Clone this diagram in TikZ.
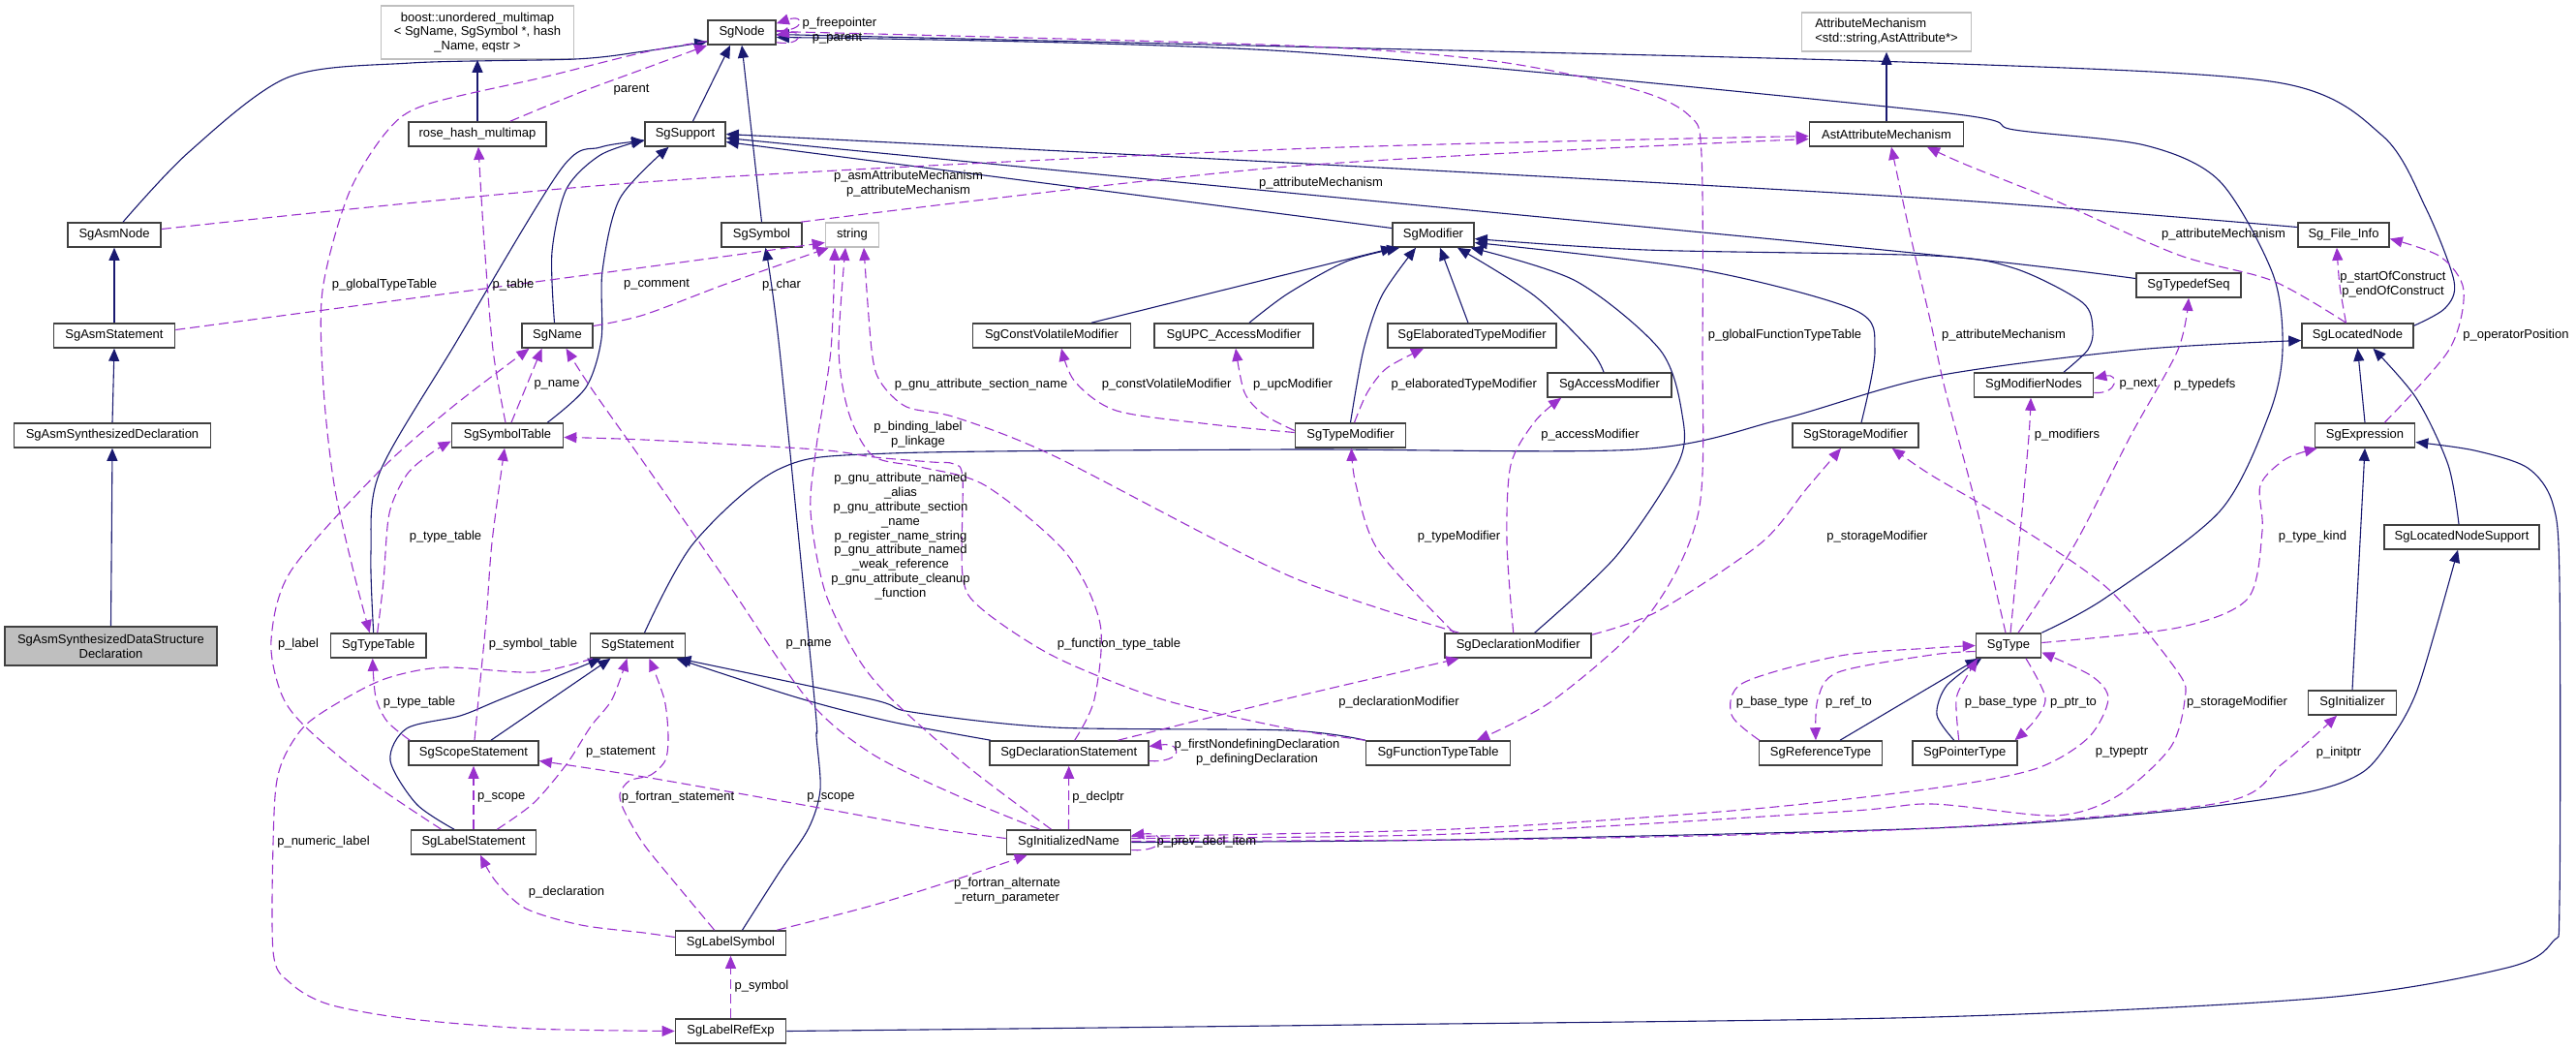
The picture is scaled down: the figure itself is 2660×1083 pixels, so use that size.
\documentclass[tikz,border=0pt]{standalone}
\usepackage{fontspec}
\setmainfont{Liberation Sans}
\usetikzlibrary{arrows.meta,calc}
\definecolor{inhc}{HTML}{191970}
\definecolor{usec}{HTML}{9A32CD}
\definecolor{grayb}{HTML}{BFBFBF}
\definecolor{bordc}{HTML}{404040}
\begin{document}
\begin{tikzpicture}[x=0.5pt,y=-0.5pt,font=\fontsize{6.5pt}{7.4pt}\selectfont,
  cls/.style={draw=bordc,line width=0.8pt,fill=white,minimum height=12.5pt,inner sep=0pt,align=center},
  gcls/.style={cls,draw=grayb},
  inhedge/.style={draw=inhc,line width=0.55pt,-{Triangle[length=6.5pt,width=5.5pt]}},
  useedge/.style={draw=usec,line width=0.55pt,dash pattern=on 5pt off 2.5pt,-{Triangle[length=6.5pt,width=5.5pt]}},
  lbl/.style={inner sep=0pt,align=center}]
\fill[white] (0,0) rectangle (2660,1083);
\useasboundingbox (0,0) rectangle (2660,1083);

% ---------- nodes ----------
\node[gcls,minimum width=99.5pt,minimum height=27.5pt] (boost) at (493,33.5) {boost::unordered\_multimap\\< SgName, SgSymbol *, hash\\\_Name, eqstr >};
\node[cls,minimum width=71pt] (rose) at (493,138.5) {rose\_hash\_multimap};
\node[cls,minimum width=35pt] (SgNode) at (766,33.5) {SgNode};
\node[gcls,minimum width=87.5pt,minimum height=20pt,align=left] (AttrMech) at (1948,33) {AttributeMechanism\\<std::string,AstAttribute*>};
\node[cls,minimum width=41.5pt] (SgSupport) at (707.5,138.5) {SgSupport};
\node[cls,minimum width=79.5pt] (AstAttr) at (1948,138.5) {AstAttributeMechanism};
\node[cls,minimum width=48pt] (SgAsmNode) at (118,242.5) {SgAsmNode};
\node[cls,minimum width=41.5pt] (SgSymbol) at (786.5,242.5) {SgSymbol};
\node[gcls,minimum width=27.5pt] (string) at (880,242.5) {string};
\node[cls,minimum width=42pt] (SgModifier) at (1480,242.5) {SgModifier};
\node[cls,minimum width=47pt] (SgFileInfo) at (2420,242.5) {Sg\_File\_Info};
\node[cls,minimum width=54pt] (SgTypedefSeq) at (2260,294.5) {SgTypedefSeq};
\node[cls,minimum width=62.5pt] (SgAsmStatement) at (118,346.5) {SgAsmStatement};
\node[cls,minimum width=36.5pt] (SgName) at (575.5,346.5) {SgName};
\node[cls,minimum width=81.5pt] (SgCVM) at (1086,346.5) {SgConstVolatileModifier};
\node[cls,minimum width=82pt] (SgUPC) at (1274,346.5) {SgUPC\_AccessModifier};
\node[cls,minimum width=87pt] (SgETM) at (1520,346.5) {SgElaboratedTypeModifier};
\node[cls,minimum width=57.5pt] (SgLocatedNode) at (2434.5,346.5) {SgLocatedNode};
\node[cls,minimum width=64pt] (SgAccessModifier) at (1662,397.5) {SgAccessModifier};
\node[cls,minimum width=61.5pt] (SgModifierNodes) at (2100,397.5) {SgModifierNodes};
\node[cls,minimum width=101.5pt] (SgASD) at (116,449.5) {SgAsmSynthesizedDeclaration};
\node[cls,minimum width=57.5pt] (SgSymbolTable) at (524,449.5) {SgSymbolTable};
\node[cls,minimum width=57pt] (SgTypeModifier) at (1394.5,449.5) {SgTypeModifier};
\node[cls,minimum width=65pt] (SgStorageModifier) at (1916,449.5) {SgStorageModifier};
\node[cls,minimum width=51.5pt] (SgExpression) at (2442,449.5) {SgExpression};
\node[cls,minimum width=80pt] (SgLNS) at (2542,554.5) {SgLocatedNodeSupport};
\node[cls,fill=grayb,minimum width=109.5pt,minimum height=20pt] (SgASDSD) at (114.5,667) {SgAsmSynthesizedDataStructure\\Declaration};
\node[cls,minimum width=49.25pt] (SgTypeTable) at (390.7,666.5) {SgTypeTable};
\node[cls,minimum width=49pt] (SgStatement) at (658.5,666.5) {SgStatement};
\node[cls,minimum width=75.5pt] (SgDeclMod) at (1567.7,666.5) {SgDeclarationModifier};
\node[cls,minimum width=33.5pt] (SgType) at (2074,666.5) {SgType};
\node[cls,minimum width=45.5pt] (SgInitializer) at (2429,725.5) {SgInitializer};
\node[cls,minimum width=67pt] (SgScopeStatement) at (489,777.5) {SgScopeStatement};
\node[cls,minimum width=82pt] (SgDeclStmt) at (1103.7,777.5) {SgDeclarationStatement};
\node[cls,minimum width=74.5pt] (SgFTT) at (1485,777.5) {SgFunctionTypeTable};
\node[cls,minimum width=63.5pt] (SgRefType) at (1880,777.5) {SgReferenceType};
\node[cls,minimum width=54pt] (SgPtrType) at (2028.7,777.5) {SgPointerType};
\node[cls,minimum width=64.5pt] (SgLabelStatement) at (489,869.5) {SgLabelStatement};
\node[cls,minimum width=64pt] (SgInitName) at (1103.5,869.5) {SgInitializedName};
\node[cls,minimum width=57pt] (SgLabelSymbol) at (754.5,973.5) {SgLabelSymbol};
\node[cls,minimum width=57pt] (SgLabelRefExp) at (754.5,1064.5) {SgLabelRefExp};

% ---------- inheritance ----------
\draw[inhedge] plot[smooth] coordinates {($(SgAsmNode.north)+(9,0)$) (195,157) (297,80) (424,65) (594,61) (665,53) (SgNode.195)};
\draw[inhedge] (SgAsmStatement.north) -- (SgAsmNode.south);
\draw[inhedge] (SgASD.north) -- (SgAsmStatement.south);
\draw[inhedge] (SgASDSD.north) -- (SgASD.south);
\draw[inhedge] (rose.north) -- (boost.south);
\draw[inhedge] ($(SgSupport.north)+(8,0)$) -- ($(SgNode.south)+(-12,0)$);
\draw[inhedge] (SgSymbol.north) -- (SgNode.south);
\draw[inhedge] plot[smooth] coordinates {($(SgName.north)+(-3,0)$) (570,260) (585,195) (620,160) ($(SgSupport.west)+(0,6)$)};
\draw[inhedge] plot[smooth] coordinates {($(SgTypeTable.north)+(-5,0)$) (383,570) (392,488) (470,355) (579,175) (620,152) ($(SgSupport.west)+(0,7)$)};
\draw[inhedge] plot[smooth] coordinates {($(SgSymbolTable.north east)+(-17,0)$) (605,400) (621,350) (622,280) (640,205) ($(SgSupport.south)+(-17,0)$)};
\draw[inhedge] ($(SgModifier.west)+(0,-7)$) -- ($(SgSupport.east)+(0,8)$);
\draw[inhedge] plot[smooth] coordinates {($(SgFileInfo.west)+(0,-8)$) (1995,205) (1330,168) (SgSupport.east)};
\draw[inhedge] plot[smooth] coordinates {($(SgTypedefSeq.west)+(0,-7)$) (1995,263) (1330,199) ($(SgSupport.east)+(0,4)$)};
\draw[inhedge] ($(SgCVM.north)+(41,0)$) -- ($(SgModifier.south west)+(2,0)$);
\draw[inhedge] plot[smooth] coordinates {($(SgUPC.north)+(16,0)$) (1330,303) (1390,270) ($(SgModifier.south west)+(8,0)$)};
\draw[inhedge] ($(SgETM.north)+(-4,0)$) -- ($(SgModifier.south)+(7,0)$);
\draw[inhedge] plot[smooth] coordinates {(SgTypeModifier.north) (1408,361) (1427,305) ($(SgModifier.south)+(-18,0)$)};
\draw[inhedge] plot[smooth] coordinates {($(SgAccessModifier.north)+(-6,0)$) (1642,361) (1584,305) ($(SgModifier.south)+(25,0)$)};
\draw[inhedge] plot[smooth] coordinates {($(SgDeclMod.north)+(17,0)$) (1669,574) (1733,478) (1737,428) (1714,361) (1627,290) ($(SgModifier.south east)+(-4,0)$)};
\draw[inhedge] plot[smooth] coordinates {($(SgStorageModifier.north)+(6,0)$) (1936,361) (1915,320) (1754,278) ($(SgModifier.east)+(0,8)$)};
\draw[inhedge] plot[smooth] coordinates {($(SgModifierNodes.north)+(31,0)$) (2156,361) (2161,340) (2150,312) (2080,277) (1995,264) (1700,258) ($(SgModifier.east)+(0,4)$)};
\draw[inhedge] plot[smooth] coordinates {($(SgLocatedNode.north east)+(0,3)$) (2525,318) (2534,290) (2505,215) (2460,140) (2351,85) (1995,65) (1330,48) ($(SgNode.east)+(0,2)$)};
\draw[inhedge] plot[smooth] coordinates {(SgType.north east) (2173,618) (2292,528) (2343,428) (2357,361) (2347,283) (2292,187) (2215,150) (2080,134) (1995,115) (1330,53) ($(SgNode.east)+(0,5)$)};
\draw[inhedge] (SgExpression.north) -- (SgLocatedNode.south);
\draw[inhedge] plot[smooth] coordinates {($(SgLNS.north)+(-3,0)$) (2528,480) (2495,411) ($(SgLocatedNode.south)+(16,0)$)};
\draw[inhedge] (SgInitializer.north) -- (SgExpression.south);
\draw[inhedge] plot[smooth] coordinates {(SgLabelRefExp.east) (1400,1058) (1995,1050) (2400,1030) (2589,999) (2636,972) (2643,930) (2643,600) (2636,520) (2610,483) (2555,465) ($(SgExpression.east)+(0,7)$)};
\draw[inhedge] plot[smooth] coordinates {(SgInitName.east) (1500,867) (1995,855) (2224,839) (2377,819) (2440,797) (2474,755) (2495,715) (2515,650) ($(SgLNS.south)+(-4,0)$)};
\draw[inhedge] plot[smooth] coordinates {($(SgStatement.north)+(7,0)$) (716,561) (805,484) (919,468) (1330,464) (1690,464) (1839,433) (1995,389) (2207,361) ($(SgLocatedNode.west)+(0,5)$)};
\draw[inhedge] ($(SgScopeStatement.north)+(18,0)$) -- ($(SgStatement.south)+(-28,0)$);
\draw[inhedge] plot[smooth] coordinates {($(SgLabelStatement.north)+(-20,0)$) (430,830) (403,785) (420,752) (475,739) (517,722) ($(SgStatement.south)+(-38,0)$)};
\draw[inhedge] plot[smooth] coordinates {($(SgDeclStmt.north west)+(2,0)$) (920,745) (826,721) ($(SgStatement.south)+(40,0)$)};
\draw[inhedge] plot[smooth] coordinates {(SgFTT.north west) (1330,754) (1089,751) (941,735) (900,722) ($(SgStatement.south)+(42,0)$)};
\draw[inhedge] ($(SgRefType.north)+(20,0)$) -- ($(SgType.south west)+(3,0)$);
\draw[inhedge] plot[smooth] coordinates {($(SgPtrType.north)+(-11,0)$) (2000,738) (2010,708) ($(SgType.south)+(-28,0)$)};
\draw[inhedge] plot[smooth] coordinates {($(SgLabelSymbol.north)+(12,0)$) (805,900) (835,855) (847,815) (843,760) (841,722) (805,361) ($(SgSymbol.south)+(4,0)$)};
\draw[inhedge] (AstAttr.north) -- (AttrMech.south);

% ---------- usage ----------
\draw[useedge] ($(SgNode.east)+(0,-2)$) .. controls (832,33) and (832,14) .. ($(SgNode.north east)+(0,4)$);
\draw[useedge] ($(SgNode.south east)+(0,-3)$) .. controls (830,48) and (830,30) .. ($(SgNode.east)+(0,3)$);
\draw[useedge] plot[smooth] coordinates {($(rose.north east)+(-38,0)$) (600,95) (665,71) (SgNode.south west)};
\draw[useedge] plot[smooth] coordinates {($(SgNode.west)+(0,9)$) (665,54) (560,80) (440,108) (400,135) (360,200) (333,300) (334,400) (345,500) (365,590) ($(SgTypeTable.north)+(-9,0)$)};
\draw[useedge] plot[smooth] coordinates {($(SgAsmNode.east)+(0,-6)$) (665,188) (1330,154) ($(AstAttr.west)+(0,2)$)};
\draw[useedge] plot[smooth] coordinates {($(SgSymbol.north east)+(-2,0)$) (1330,172) ($(AstAttr.west)+(0,5)$)};
\draw[useedge] plot[smooth] coordinates {($(SgAsmStatement.east)+(0,-6)$) (665,276) ($(string.west)+(0,8)$)};
\draw[useedge] plot[smooth] coordinates {($(SgName.east)+(0,-10)$) (665,325) (750,293) ($(string.south west)+(4,0)$)};
\draw[useedge] plot[smooth] coordinates {($(SgSymbolTable.north)+(-2,0)$) (509,361) (500,250) ($(rose.south)+(1,0)$)};
\draw[useedge] plot[smooth] coordinates {($(SgSymbolTable.north)+(4,0)$) (545,395) ($(SgName.south)+(-16,0)$)};
\draw[useedge] plot[smooth] coordinates {($(SgLabelStatement.north west)+(32,0)$) (380,805) (314,749) (290,715) (280,661) (300,590) (390,488) (466,421) ($(SgName.south)+(-29,0)$)};
\draw[useedge] plot[smooth] coordinates {($(SgInitName.north)+(-30,0)$) (990,822) (900,778) (834,722) (750,600) (665,478) (610,400) ($(SgName.south)+(9,0)$)};
\draw[useedge] plot[smooth] coordinates {($(SgInitName.north)+(-18,0)$) (1000,792) (921,722) (885,678) (852,611) (837,528) (843,461) (858,361) ($(string.south)+(-18,0)$)};
\draw[useedge] plot[smooth] coordinates {($(SgDeclStmt.north)+(6,0)$) (1130,722) (1136,644) (1100,570) (1017,501) (950,482) (902,471) (877,428) (866,361) ($(string.south)+(-7,0)$)};
\draw[useedge] plot[smooth] coordinates {($(SgDeclMod.north west)+(15,0)$) (1330,594) (1089,471) (987,431) (936,420) (909,394) (900,361) ($(string.south)+(12,0)$)};
\draw[useedge] plot[smooth] coordinates {(SgFTT.north west) (1330,752) (1200,722) (1089,678) (1013,628) (994,594) (994,494) (985,479) (962,477) (903,472) (843,464) (665,454) ($(SgSymbolTable.east)+(0,2)$)};
\draw[useedge] plot[smooth] coordinates {($(SgTypeModifier.north)+(4,0)$) (1412,405) (1432,380) ($(SgETM.south)+(-50,0)$)};
\draw[useedge] plot[smooth] coordinates {($(SgTypeModifier.west)+(0,-5)$) (1305,428) (1285,405) ($(SgUPC.south)+(2,0)$)};
\draw[useedge] plot[smooth] coordinates {($(SgTypeModifier.west)+(0,-3)$) (1250,438) (1153,424) (1110,394) ($(SgCVM.south)+(10,0)$)};
\draw[useedge] plot[smooth] coordinates {($(SgDeclMod.north west)+(10,0)$) (1423,568) (1400,500) ($(SgTypeModifier.south)+(1,0)$)};
\draw[useedge] plot[smooth] coordinates {($(SgDeclMod.north)+(-5,0)$) (1556,560) (1560,480) (1585,435) ($(SgAccessModifier.south west)+(15,0)$)};
\draw[useedge] plot[smooth] coordinates {($(SgDeclMod.north east)+(0,2)$) (1712,631) (1818,561) (1865,505) ($(SgStorageModifier.south)+(-15,0)$)};
\draw[useedge] plot[smooth] coordinates {($(SgInitName.east)+(0,-4)$) (1500,861) (1900,838) (1995,830) (2122,842) (2186,822) (2241,772) (2256,722) (2249,694) (2177,608) (2080,541) (1995,491) ($(SgStorageModifier.south east)+(-28,0)$)};
\draw[useedge] plot[smooth] coordinates {($(SgInitName.east)+(0,-6)$) (1500,856) (1800,836) (1995,814) (2101,794) (2156,762) (2177,722) (2160,698) ($(SgType.east)+(0,7)$)};
\draw[useedge] plot[smooth] coordinates {($(SgInitName.east)+(0,-1)$) (1600,866) (1995,855) (2292,829) (2356,789) ($(SgInitializer.south)+(-16,0)$)};
\draw[useedge] ($(SgInitName.east)+(0,8)$) .. controls (1205,880) and (1205,858) .. ($(SgInitName.east)+(0,-7)$);
\draw[useedge] (SgInitName.north) -- (SgDeclStmt.south);
\draw[useedge] ($(SgDeclStmt.east)+(0,8)$) .. controls (1222,788) and (1222,766) .. ($(SgDeclStmt.east)+(0,-7)$);
\draw[useedge] plot[smooth] coordinates {($(SgDeclStmt.north east)+(-32,0)$) (1330,721) ($(SgDeclMod.south west)+(15,0)$)};
\draw[useedge] plot[smooth] coordinates {($(SgLabelSymbol.north east)+(-10,0)$) (900,935) (987,908) ($(SgInitName.south west)+(22,0)$)};
\draw[useedge] (SgLabelRefExp.north) -- (SgLabelSymbol.south);
\draw[useedge] plot[smooth] coordinates {($(SgStatement.south west)+(3,0)$) (551,694) (458,689) (400,700) (355,722) (314,750) (290,790) (283,840) (282,982) (300,1015) (340,1037) (424,1052) (550,1062) (SgLabelRefExp.west)};
\draw[useedge] plot[smooth] coordinates {($(SgLabelSymbol.west)+(0,-6)$) (665,963) (600,955) (543,938) (512,910) ($(SgLabelStatement.south)+(7,0)$)};
\draw[useedge] plot[smooth] coordinates {($(SgLabelSymbol.north west)+(41,0)$) (700,915) (665,872) (645,838) (640,820) (650,806) (672,800) (687,785) (690,760) (686,722) ($(SgStatement.south)+(12,0)$)};
\draw[useedge] plot[smooth] coordinates {($(SgInitName.west)+(0,-4)$) (962,855) (835,832) (665,802) ($(SgScopeStatement.east)+(0,8)$)};
\draw[useedge] plot[smooth] coordinates {($(SgScopeStatement.north)+(1,0)$) (494,722) (502,640) (508,560) ($(SgSymbolTable.south)+(-3,0)$)};
\draw[useedge] plot[smooth] coordinates {($(SgScopeStatement.north west)+(2,0)$) (400,745) (388,720) ($(SgTypeTable.south)+(-6,0)$)};
\draw[useedge] plot[smooth] coordinates {($(SgTypeTable.north)+(-1,0)$) (396,600) (402,530) (420,490) (445,468) ($(SgSymbolTable.west)+(0,6)$)};
\draw[useedge] (SgLabelStatement.north) -- (SgScopeStatement.south);
\draw[useedge] plot[smooth] coordinates {($(SgLabelStatement.north east)+(-41,0)$) (551,829) (585,789) (610,750) (632,722) ($(SgStatement.south)+(-11,0)$)};
\draw[useedge] plot[smooth] coordinates {($(SgType.north)+(2,0)$) (2086,550) (2095,450) ($(SgModifierNodes.south)+(-3,0)$)};
\draw[useedge] ($(SgModifierNodes.east)+(0,8)$) .. controls (2188,407) and (2188,385) .. ($(SgModifierNodes.east)+(0,-7)$);
\draw[useedge] plot[smooth] coordinates {($(SgType.north)+(10,0)$) (2143,561) (2200,450) (2249,361) (SgTypedefSeq.south)};
\draw[useedge] plot[smooth] coordinates {($(SgType.east)+(0,-3)$) (2249,648) (2321,618) (2336,548) (2334,501) (2360,474) ($(SgExpression.south west)+(3,0)$)};
\draw[useedge] plot[smooth] coordinates {($(SgType.north)+(-3,0)$) (2040,520) (2008,400) (1993,330) (1972,240) ($(AstAttr.south)+(5,0)$)};
\draw[useedge] plot[smooth] coordinates {($(SgLocatedNode.north)+(-12,0)$) (2347,290) (2249,263) (2122,207) (2030,170) ($(AstAttr.south)+(42,0)$)};
\draw[useedge] plot[smooth] coordinates {($(SgLocatedNode.north)+(-12,0)$) (2416,295) ($(SgFileInfo.south)+(-7,0)$)};
\draw[useedge] plot[smooth] coordinates {($(SgExpression.north east)+(-32,0)$) (2529,361) (2544,300) (2520,265) ($(SgFileInfo.east)+(0,4)$)};
\draw[useedge] plot[smooth] coordinates {($(SgRefType.north west)+(1,0)$) (1788,738) (1800,705) (1900,677) (1995,669) (SgType.west)};
\draw[useedge] plot[smooth] coordinates {($(SgType.west)+(0,6)$) (1995,676) (1898,694) (1877,722) ($(SgRefType.north)+(-5,0)$)};
\draw[useedge] plot[smooth] coordinates {($(SgPtrType.north)+(-6,0)$) (2020,722) (2030,700) ($(SgType.south)+(-32,0)$)};
\draw[useedge] plot[smooth] coordinates {($(SgType.south)+(18,0)$) (2112,720) (2100,745) ($(SgPtrType.north east)+(-3,0)$)};
\draw[useedge] plot[smooth] coordinates {($(SgNode.east)+(0,-1)$) (1330,47) (1542,63) (1690,93) (1745,120) (1757,160) (1758,361) (1754,528) (1703,634) (1605,722) ($(SgFTT.north)+(40,0)$)};

% ---------- labels ----------
\node[lbl] (l1) at (867,24) {p\_freepointer};
\node[lbl] (l2) at (864.5,40) {p\_parent};
\node[lbl] (l3) at (652,93) {parent};
\node[lbl] (l4) at (938,190) {p\_asmAttributeMechanism\\p\_attributeMechanism};
\node[lbl] (l5) at (1364,189) {p\_attributeMechanism};
\node[lbl] (l6) at (397,294) {p\_globalTypeTable};
\node[lbl] (l7) at (530,294) {p\_table};
\node[lbl] (l8) at (678,294) {p\_comment};
\node[lbl] (l9) at (807,294) {p\_char};
\node[lbl] (l10) at (1843,346) {p\_globalFunctionTypeTable};
\node[lbl] (l11) at (2296,242) {p\_attributeMechanism};
\node[lbl] (l12) at (2471,294) {p\_startOfConstruct\\p\_endOfConstruct};
\node[lbl] (l13) at (2069,346) {p\_attributeMechanism};
\node[lbl] (l14) at (2598,346) {p\_operatorPosition};
\node[lbl] (l15) at (575,397) {p\_name};
\node[lbl] (l16) at (1013,397) {p\_gnu\_attribute\_section\_name};
\node[lbl] (l17) at (1204.6,397) {p\_constVolatileModifier};
\node[lbl] (l18) at (1335,397) {p\_upcModifier};
\node[lbl] (l19) at (1511.7,397) {p\_elaboratedTypeModifier};
\node[lbl] (l20) at (2208,397) {p\_next};
\node[lbl] (l21) at (2276.6,397) {p\_typedefs};
\node[lbl] (l22) at (948,448.7) {p\_binding\_label\\p\_linkage};
\node[lbl] (l23) at (1642,448.7) {p\_accessModifier};
\node[lbl] (l24) at (2134.4,448.7) {p\_modifiers};
\node[lbl] (l25) at (930,553.7) {p\_gnu\_attribute\_named\\\_alias\\p\_gnu\_attribute\_section\\\_name\\p\_register\_name\_string\\p\_gnu\_attribute\_named\\\_weak\_reference\\p\_gnu\_attribute\_cleanup\\\_function};
\node[lbl] (l26) at (460,553.7) {p\_type\_table};
\node[lbl] (l27) at (1506.6,553.7) {p\_typeModifier};
\node[lbl] (l28) at (1938.5,553.7) {p\_storageModifier};
\node[lbl] (l29) at (2388,553.7) {p\_type\_kind};
\node[lbl] (l30) at (308,665.3) {p\_label};
\node[lbl] (l31) at (550.5,665.3) {p\_symbol\_table};
\node[lbl] (l32) at (835,665.3) {p\_name};
\node[lbl] (l33) at (1155.5,665.3) {p\_function\_type\_table};
\node[lbl] (l34) at (433,725.3) {p\_type\_table};
\node[lbl] (l35) at (1444.6,725.3) {p\_declarationModifier};
\node[lbl] (l36) at (1830,725.3) {p\_base\_type};
\node[lbl] (l37) at (1909,725.3) {p\_ref\_to};
\node[lbl] (l38) at (2066,725.3) {p\_base\_type};
\node[lbl] (l39) at (2141,725.3) {p\_ptr\_to};
\node[lbl] (l40) at (2310,725.3) {p\_storageModifier};
\node[lbl] (l41) at (641,777) {p\_statement};
\node[lbl] (l42) at (1298,776.5) {p\_firstNondefiningDeclaration\\p\_definingDeclaration};
\node[lbl] (l43) at (2191,777) {p\_typeptr};
\node[lbl] (l44) at (2415,777) {p\_initptr};
\node[lbl] (l45) at (517.7,823) {p\_scope};
\node[lbl] (l46) at (700,823) {p\_fortran\_statement};
\node[lbl] (l47) at (858,823) {p\_scope};
\node[lbl] (l48) at (1134,823) {p\_declptr};
\node[lbl] (l49) at (334,868.7) {p\_numeric\_label};
\node[lbl] (l50) at (1246,868.7) {p\_prev\_decl\_item};
\node[lbl] (l51) at (1040,920) {p\_fortran\_alternate\\\_return\_parameter};
\node[lbl] (l52) at (585,921) {p\_declaration};
\node[lbl] (l53) at (786.5,1018) {p\_symbol};
\end{tikzpicture}
\end{document}
